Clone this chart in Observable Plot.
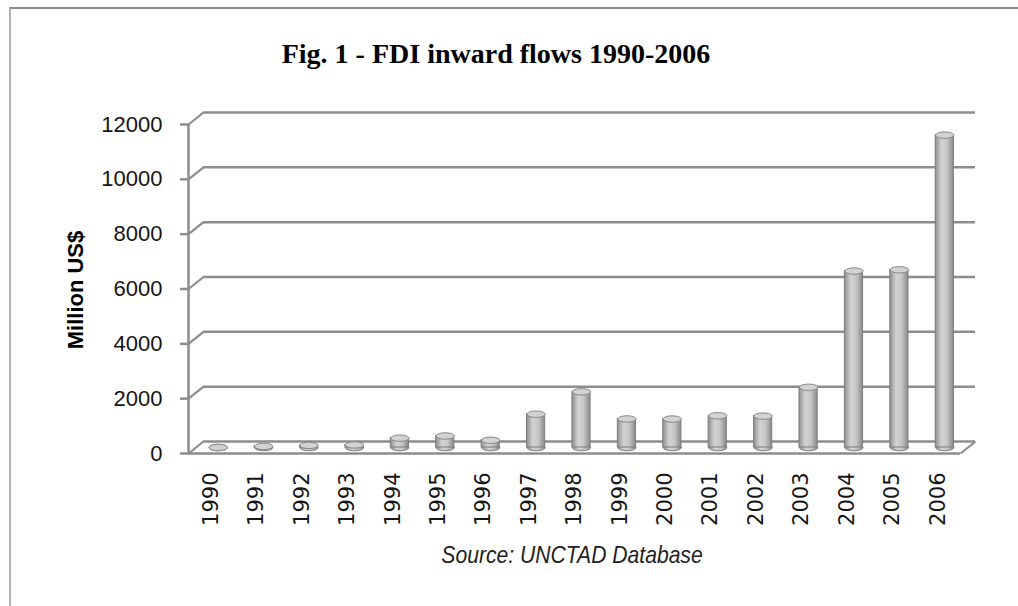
<!DOCTYPE html>
<html>
<head>
<meta charset="utf-8">
<script src="https://cdn.jsdelivr.net/npm/d3@7"></script>
<script src="https://cdn.jsdelivr.net/npm/@observablehq/plot@0.6"></script>
<style>
  html, body { margin: 0; padding: 0; background: #fff; }
  #wrap { position: relative; width: 1018px; height: 606px; overflow: hidden; background: #fff; }
  #frame { position: absolute; left: 9px; top: 7px; right: -10px; bottom: -10px;
           border-top: 2px solid #8a8a8a; border-left: 2px solid #b4b4b4; }
  #title { position: absolute; left: 496px; top: 40px; transform: translateX(-50%);
           font: bold 28px "Liberation Serif", "Times New Roman", serif; line-height: 28px;
           white-space: nowrap; color: #000; }
  #ylabel { position: absolute; left: 76px; top: 290px; transform: translate(-50%, -50%) rotate(-90deg);
            font: bold 22px "Liberation Sans", Arial, sans-serif; line-height: 22px; white-space: nowrap; color: #000; }
  #caption { position: absolute; left: 572px; top: 543px; transform: translateX(-50%) scaleX(0.88);
             font: italic 24px "Liberation Sans", sans-serif; line-height: 24px;
             white-space: nowrap; color: #222; }
  #chart { position: absolute; left: 0; top: 0; }
</style>
</head>
<body>
<svg width="0" height="0" style="position:absolute">
  <defs>
    <linearGradient id="cyl" x1="0" y1="0" x2="1" y2="0">
      <stop offset="0%" stop-color="#8f8f8f"/>
      <stop offset="35%" stop-color="#d3d3d3"/>
      <stop offset="65%" stop-color="#c6c6c6"/>
      <stop offset="100%" stop-color="#8a8a8a"/>
    </linearGradient>
  </defs>
</svg>
<div id="wrap">
  <div id="frame"></div>
  <div id="chart"></div>
  <div id="title">Fig. 1 - FDI inward flows 1990-2006</div>
  <div id="ylabel">Million US$</div>
  <div id="caption">Source: UNCTAD Database</div>
</div>
<script>
// ---- data ----
const years = ["1990","1991","1992","1993","1994","1995","1996","1997","1998","1999","2000","2001","2002","2003","2004","2005","2006"];
const fdi = [0, 40, 77, 94, 341, 419, 263, 1215, 2031, 1041, 1037, 1157, 1144, 2196, 6436, 6482, 11393];
const yTicks = [0, 2000, 4000, 6000, 8000, 10000, 12000];

// ---- layout ----
const W = 1018, H = 606;
const mL = 188, mR = 58, mT = 124, mB = 153;
const n = years.length;
const yMax = 12000;
const plotW = W - mL - mR, plotH = H - mT - mB;
const DX = 15, DY = 12;            // depth of the 3-D wall in px
const depthX = DX * n / plotW;     // same depth in x units
const depthY = DY * yMax / plotH;  // same depth in y units
const barHalf = 0.2;               // half bar width as fraction of band
const gridColor = "#8d8d8d";

const data = years.map((year, i) => ({year, value: fdi[i], i}));

// ellipse symbol for cylinder caps
const ellipse = {
  draw(ctx) {
    const rx = 9.1, ry = 3.2, k = 0.5523;
    ctx.moveTo(rx, 0);
    ctx.bezierCurveTo(rx, ry * k, rx * k, ry, 0, ry);
    ctx.bezierCurveTo(-rx * k, ry, -rx, ry * k, -rx, 0);
    ctx.bezierCurveTo(-rx, -ry * k, -rx * k, -ry, 0, -ry);
    ctx.bezierCurveTo(rx * k, -ry, rx, -ry * k, rx, 0);
    ctx.closePath();
  }
};

const chart = Plot.plot({
  width: W, height: H,
  marginLeft: mL, marginRight: mR, marginTop: mT, marginBottom: mB,
  x: {type: "linear", domain: [0, n], axis: null},
  y: {type: "linear", domain: [0, yMax], axis: null},
  style: {fontFamily: "Liberation Sans, Arial, sans-serif", background: "transparent"},
  marks: [
    // back wall gridlines
    Plot.ruleY(yTicks, {y: d => d, dx: DX, dy: -DY, stroke: gridColor, strokeWidth: 2.5}),
    // front floor line
    Plot.ruleY([0], {y: d => d, stroke: gridColor, strokeWidth: 2.5}),
    // side wall connectors (front tick to back gridline)
    Plot.link(yTicks, {x1: 0, y1: d => d, x2: depthX, y2: d => d + depthY, stroke: gridColor, strokeWidth: 2.2}),
    // right floor edge
    Plot.link([0], {x1: n, y1: d => d, x2: n + depthX, y2: d => d + depthY, stroke: gridColor, strokeWidth: 2.2}),
    // cylinder bottoms
    Plot.dot(data, {x: d => d.i + 0.5, y: 0, dx: 7, dy: -6, symbol: ellipse, fill: "url(#cyl)", stroke: "#7c7c7c", strokeWidth: 1}),
    // cylinder bodies
    Plot.rect(data, {x1: d => d.i + 0.5 - barHalf, x2: d => d.i + 0.5 + barHalf, y1: 0, y2: "value",
                     dx: 7, dy: -6, fill: "url(#cyl)", stroke: "#7c7c7c", strokeWidth: 1}),
    // cylinder tops
    Plot.dot(data, {x: d => d.i + 0.5, y: "value", dx: 7, dy: -6, symbol: ellipse, fill: "#d2d2d2", stroke: "#858585", strokeWidth: 1}),
    // front vertical axis
    Plot.ruleX([0], {x: d => d, y1: 0, y2: yMax, stroke: gridColor, strokeWidth: 2.5}),
    Plot.axisY({ticks: yTicks, tickFormat: d3.format("d"), tickSize: 8, tickPadding: 18, label: null,
                stroke: gridColor, strokeWidth: 2.5, fill: "#151515", fontSize: 22,
                fontFamily: "Liberation Sans, Arial, sans-serif"}),
    Plot.axisX({ticks: years.map((_, i) => i + 0.5), tickFormat: d => years[Math.floor(d)], label: null,
                tickRotate: -90, tickSize: 0, tickPadding: 19, fill: "#151515", fontSize: 21,
                fontFamily: "DejaVu Sans, Verdana, sans-serif"})
  ]
});
document.getElementById("chart").appendChild(chart);
</script>
</body>
</html>
